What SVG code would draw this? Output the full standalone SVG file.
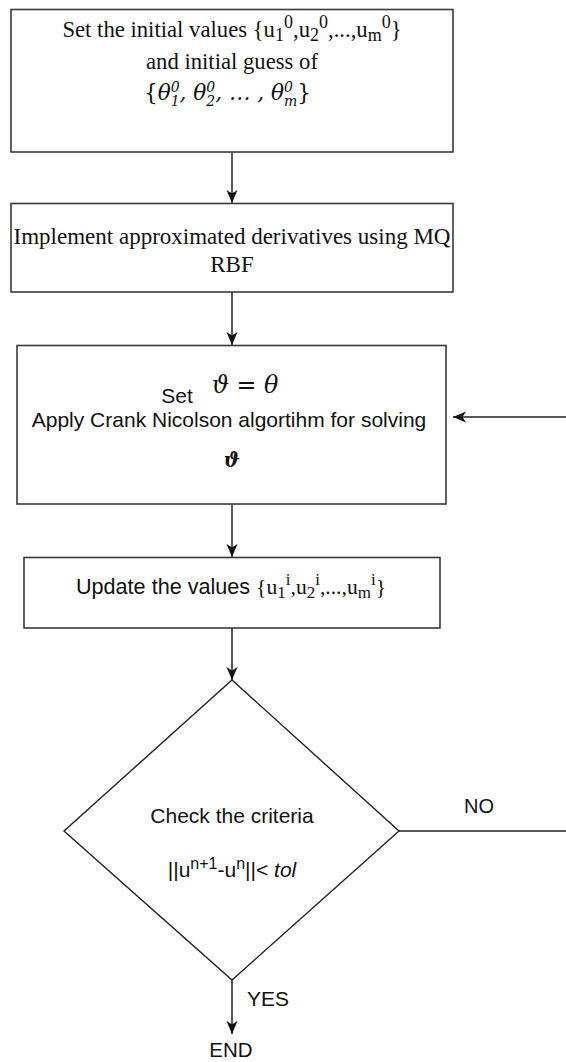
<svg xmlns="http://www.w3.org/2000/svg" width="566" height="1062" viewBox="0 0 566 1062">
<style>
.box{fill:#fff;stroke:#3a3a3a;stroke-width:1.6}
.ln{fill:none;stroke:#222;stroke-width:1.5}
.serif{font-family:"Liberation Serif","Times New Roman",serif;fill:#111}
.sans{font-family:"Liberation Sans",Arial,sans-serif;fill:#111}
.math{font-family:"DejaVu Serif","Liberation Serif",serif;font-style:italic;fill:#111}
.up{font-style:normal}
</style>
<defs>
<marker id="ah" markerUnits="userSpaceOnUse" markerWidth="14" markerHeight="14" viewBox="0 0 14 14" refX="13" refY="7" orient="auto">
<path d="M0,1.5 L13,7 L0,12.5 L3.5,7 Z" fill="#111"/>
</marker>
</defs>
<rect width="566" height="1062" fill="#fff"/>
<g id="connectors">
<line class="ln" x1="232" y1="152" x2="232" y2="203" marker-end="url(#ah)"/>
<line class="ln" x1="232" y1="292" x2="232" y2="345" marker-end="url(#ah)"/>
<line class="ln" x1="232" y1="504" x2="232" y2="557" marker-end="url(#ah)"/>
<line class="ln" x1="232" y1="628" x2="232" y2="680" marker-end="url(#ah)"/>
<path class="ln" d="M399,831 L570,831 L570,417 L453,417" marker-end="url(#ah)"/>
<line class="ln" x1="232" y1="980" x2="232" y2="1034" marker-end="url(#ah)"/>
<text class="sans" x="479" y="813" font-size="20" text-anchor="middle">NO</text>
<text class="sans" x="268" y="1006" font-size="21" text-anchor="middle">YES</text>
</g>
<g id="n1">
<rect class="box" x="11" y="9.5" width="442" height="142.5"/>
<text class="serif" x="232" y="37" font-size="22.7" text-anchor="middle">Set the initial values {u<tspan font-size="18" dy="4">1</tspan><tspan font-size="18" dy="-13">0</tspan><tspan dy="9">,u</tspan><tspan font-size="18" dy="4">2</tspan><tspan font-size="18" dy="-13">0</tspan><tspan dy="9">,...,u</tspan><tspan font-size="18" dy="4">m</tspan><tspan font-size="18" dy="-13">0</tspan><tspan dy="9">}</tspan></text>
<text class="serif" x="232" y="69" font-size="22.7" text-anchor="middle">and initial guess of</text>
<text class="math" x="144" y="100" font-size="21.6"><tspan class="up">{</tspan>θ<tspan font-size="14" dy="-8">0</tspan><tspan font-size="14" dx="-9" dy="14">1</tspan><tspan dy="-6">, θ</tspan><tspan font-size="14" dy="-8">0</tspan><tspan font-size="14" dx="-9" dy="14">2</tspan><tspan dy="-6">, … , θ</tspan><tspan font-size="14" dy="-8">0</tspan><tspan font-size="14" dx="-9" dy="14">m</tspan><tspan class="up" dy="-6">}</tspan></text>
</g>
<g id="n2">
<rect class="box" x="11" y="203.5" width="442" height="88.5"/>
<text class="serif" x="232" y="244" font-size="23" text-anchor="middle">Implement approximated derivatives using MQ</text>
<text class="serif" x="232" y="272" font-size="23" text-anchor="middle">RBF</text>
</g>
<g id="n3">
<rect class="box" x="17" y="345.5" width="429" height="158.5"/>
<text class="sans" x="177" y="403" font-size="21" text-anchor="middle">Set</text>
<text class="math" x="212" y="393" font-size="23.8">ϑ = θ</text>
<text class="sans" x="229" y="427" font-size="21" text-anchor="middle">Apply Crank Nicolson algortihm for solving</text>
<text class="math" x="232" y="467" font-size="19.5" font-weight="bold" text-anchor="middle">ϑ</text>
</g>
<g id="n4">
<rect class="box" x="24" y="557.5" width="416" height="70.5"/>
<text x="76" y="594" font-size="21.6"><tspan class="sans">Update the values </tspan><tspan class="serif">{u</tspan><tspan class="serif" font-size="17" dy="4">1</tspan><tspan class="serif" font-size="17" dy="-13">i</tspan><tspan class="serif" dy="9">,u</tspan><tspan class="serif" font-size="17" dy="4">2</tspan><tspan class="serif" font-size="17" dy="-13">i</tspan><tspan class="serif" dy="9">,...,u</tspan><tspan class="serif" font-size="17" dy="4">m</tspan><tspan class="serif" font-size="17" dy="-13">i</tspan><tspan class="serif" dy="9">}</tspan></text>
</g>
<g id="n5">
<polygon class="box" points="232,680 399,831 232,980 64,831" style="stroke:#222;stroke-width:1.4"/>
<text class="sans" x="232" y="823" font-size="21" text-anchor="middle">Check the criteria</text>
<text class="sans" x="232" y="877" font-size="21" text-anchor="middle">||u<tspan font-size="16" dy="-8">n+1</tspan><tspan dy="8">-u</tspan><tspan font-size="16" dy="-8">n</tspan><tspan dy="8">||&lt; </tspan><tspan font-style="italic">tol</tspan></text>
</g>
<g id="n6">
<text class="sans" x="231" y="1057" font-size="20.5" text-anchor="middle">END</text>
</g>
</svg>
